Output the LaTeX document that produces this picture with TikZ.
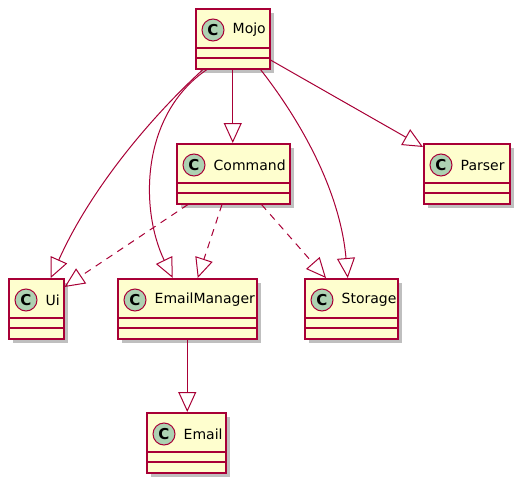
\documentclass[tikz,border=0pt]{standalone}
\usepackage{fontspec}
\setmainfont{DejaVu Sans}
\usepackage{tikz}
\usetikzlibrary{arrows.meta}
\usetikzlibrary{positioning}
\usetikzlibrary{shadows}
\definecolor{umlborder}{HTML}{A80036}
\definecolor{umlfill}{HTML}{FEFECE}
\definecolor{umlspot}{HTML}{ADD1B2}
\tikzset{>={Triangle[open,length=20pt,width=18pt]}}
\tikzset{
  classbox/.style={draw=umlborder, fill=umlfill, line width=1.5pt, inner sep=0pt,
    anchor=north west, minimum height=60pt,
    drop shadow={shadow xshift=4pt, shadow yshift=-4pt, fill=black, opacity=.25}},
  spot/.style={circle, draw=umlborder, fill=umlspot, line width=1pt, minimum size=22pt,
    inner sep=0pt, font=\bfseries\fontsize{15}{15}\selectfont},
  classname/.style={inner sep=0pt, font=\fontsize{14}{16}\selectfont},
  sep/.style={draw=umlborder, line width=1.5pt},
  extends/.style={draw=umlborder, line width=1pt, ->},
  realizes/.style={extends, dash pattern=on 7pt off 6pt}
}

\begin{document}
\begin{tikzpicture}[x=1pt, y=-1pt]
        \useasboundingbox (0,0) rectangle (525,490);

        % classes
        \node [classbox, minimum width=74pt] (Mojo) at (195,8) {};
        \node [spot] (MojoSpot) at ([shift={(18pt,-22pt)}]Mojo.north west) {C};
        \node [classname, right=8pt of MojoSpot] (MojoName) {Mojo};
        \draw [sep] ([yshift=-40pt]Mojo.north west) -- ([yshift=-40pt]Mojo.north east);
        \draw [sep] ([yshift=-50pt]Mojo.north west) -- ([yshift=-50pt]Mojo.north east);

        \node [classbox, minimum width=113pt] (Command) at (176,143) {};
        \node [spot] (CommandSpot) at ([shift={(18pt,-22pt)}]Command.north west) {C};
        \node [classname, right=8pt of CommandSpot] (CommandName) {Command};
        \draw [sep] ([yshift=-40pt]Command.north west) -- ([yshift=-40pt]Command.north east);
        \draw [sep] ([yshift=-50pt]Command.north west) -- ([yshift=-50pt]Command.north east);

        \node [classbox, minimum width=86pt] (Parser) at (423,143) {};
        \node [spot] (ParserSpot) at ([shift={(18pt,-22pt)}]Parser.north west) {C};
        \node [classname, right=8pt of ParserSpot] (ParserName) {Parser};
        \draw [sep] ([yshift=-40pt]Parser.north west) -- ([yshift=-40pt]Parser.north east);
        \draw [sep] ([yshift=-50pt]Parser.north west) -- ([yshift=-50pt]Parser.north east);

        \node [classbox, minimum width=55pt] (Ui) at (8,278) {};
        \node [spot] (UiSpot) at ([shift={(18pt,-22pt)}]Ui.north west) {C};
        \node [classname, right=8pt of UiSpot] (UiName) {Ui};
        \draw [sep] ([yshift=-40pt]Ui.north west) -- ([yshift=-40pt]Ui.north east);
        \draw [sep] ([yshift=-50pt]Ui.north west) -- ([yshift=-50pt]Ui.north east);

        \node [classbox, minimum width=139pt] (EmailManager) at (117,278) {};
        \node [spot] (EmailManagerSpot) at ([shift={(18pt,-22pt)}]EmailManager.north west) {C};
        \node [classname, right=8pt of EmailManagerSpot] (EmailManagerName) {EmailManager};
        \draw [sep] ([yshift=-40pt]EmailManager.north west) -- ([yshift=-40pt]EmailManager.north east);
        \draw [sep] ([yshift=-50pt]EmailManager.north west) -- ([yshift=-50pt]EmailManager.north east);

        \node [classbox, minimum width=93pt] (Storage) at (304,278) {};
        \node [spot] (StorageSpot) at ([shift={(18pt,-22pt)}]Storage.north west) {C};
        \node [classname, right=8pt of StorageSpot] (StorageName) {Storage};
        \draw [sep] ([yshift=-40pt]Storage.north west) -- ([yshift=-40pt]Storage.north east);
        \draw [sep] ([yshift=-50pt]Storage.north west) -- ([yshift=-50pt]Storage.north east);

        \node [classbox, minimum width=79pt] (Email) at (146,412) {};
        \node [spot] (EmailSpot) at ([shift={(18pt,-22pt)}]Email.north west) {C};
        \node [classname, right=8pt of EmailSpot] (EmailName) {Email};
        \draw [sep] ([yshift=-40pt]Email.north west) -- ([yshift=-40pt]Email.north east);
        \draw [sep] ([yshift=-50pt]Email.north west) -- ([yshift=-50pt]Email.north east);

        % relations
        \draw [extends] (Mojo.south) -- (Mojo.south |- Command.north);
        \draw [extends] ([xshift=8pt]Mojo.south west) .. controls (150,118) and (90,190) .. ([xshift=14.5pt]Ui.north);
        \draw [extends] ([xshift=12pt]Mojo.south west) .. controls (140,115) and (140,210) .. ([xshift=-14.5pt]EmailManager.north);
        \draw [extends] ([xshift=-10pt]Mojo.south east) .. controls (300,120) and (340,190) .. ([xshift=-3.5pt]Storage.north);
        \draw [extends] ([yshift=-52pt]Mojo.north east) -- ([yshift=-4pt]Parser.north west);
        \draw [realizes] ([xshift=12pt]Command.south west) -- ([yshift=-9pt]Ui.north east);
        \draw [realizes] ([xshift=46pt]Command.south west) -- ([xshift=10.5pt]EmailManager.north);
        \draw [realizes] ([xshift=-29pt]Command.south east) -- ([xshift=22pt]Storage.north west);
        \draw [extends] (EmailManager.south) -- (EmailManager.south |- Email.north);
\end{tikzpicture}
\end{document}
